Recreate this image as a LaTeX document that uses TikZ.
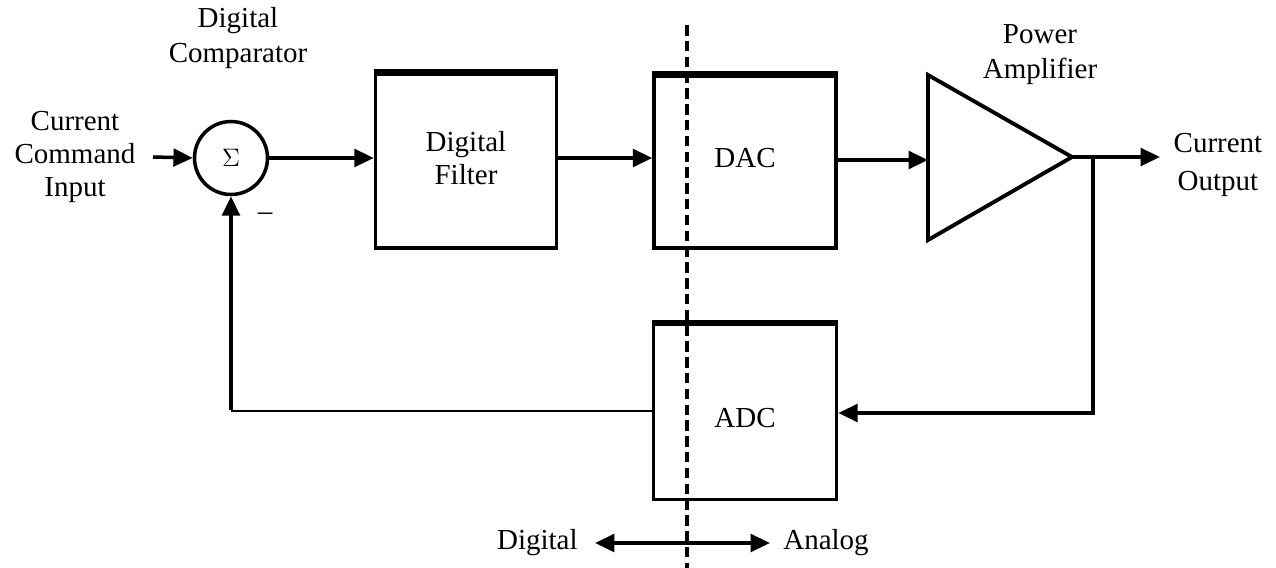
\documentclass[tikz,border=0pt]{standalone}
\usepackage{fontspec}
\setmainfont{Liberation Serif}
\usetikzlibrary{arrows.meta}
\begin{document}
\begin{tikzpicture}[x=0.02cm,y=-0.02cm,
  lbl/.style={font=\fontsize{16.5}{19}\selectfont, align=center, inner sep=0pt},
  blk/.style={draw, line width=2pt, inner sep=0pt},
  conn/.style={line width=2pt, -{Triangle[length=11pt,width=10pt]}},
  wire/.style={line width=2pt}]
\useasboundingbox (0,0) rectangle (1276,568);
% blocks
\node[draw, circle, line width=2pt, minimum size=1.46cm, inner sep=0pt, font=\fontsize{15}{15}\selectfont] (sum) at (231,158) {$\Sigma$};
\node[blk, minimum width=3.62cm, minimum height=3.48cm] (filt) at (466,161) {};
\node[lbl] at (466,158) {Digital\\Filter};
\node[blk, minimum width=3.64cm, minimum height=3.44cm] (dac) at (745,162) {};
\node[lbl] at (745,158) {DAC};
\node[blk, minimum width=3.66cm, minimum height=3.5cm] (adc) at (745,412) {};
\node[lbl] at (745,418) {ADC};
\draw[line width=3.5pt] (filt.north west) -- (filt.north east);
\draw[line width=3.5pt] (dac.north west) -- (dac.north east);
\draw[line width=3.5pt] (adc.north west) -- (adc.north east);
% amplifier
\coordinate (ampL) at (928,157);
\coordinate (ampT) at (1072,157);
\draw[line width=2.2pt, line join=miter] (928,75) -- (ampT) -- (928,240) -- cycle;
% labels
\node[lbl] (inlbl) at (75,157) {Current\\Command\\Input};
\node[lbl, font=\fontsize{16.5}{20}\selectfont] at (238,38) {Digital\\Comparator};
\node[lbl, font=\fontsize{16.5}{20}\selectfont] at (1040,55) {Power\\Amplifier};
\node[lbl, font=\fontsize{16.5}{22}\selectfont] (outlbl) at (1218,165) {Current\\Output};
\node[lbl] at (265,217) {--};
\node[lbl, anchor=east] (dig) at (578,543) {Digital};
\node[lbl, anchor=west] (ana) at (783,543) {Analog};
% connectors
\coordinate (inS) at (153,157);
\draw[conn] (inS) -- (sum.west);
\draw[conn] (sum.east) -- (filt.west |- sum.east);
\draw[conn] (filt.east |- 0,158) -- (dac.west |- 0,158);
\draw[conn] (dac.east |- 0,160) -- (ampL |- 0,160);
\coordinate (br) at (1093,157);
\coordinate (outE) at (1160,157);
\coordinate (brB) at (1093,413);
\coordinate (fbC) at (231,411);
\draw[conn] (ampT) -- (outE);
\draw[conn, line join=miter] (br) -- (brB) -- (adc.east |- brB);
\draw[line width=1.3pt] (adc.west |- fbC) -- (fbC);
\draw[conn] ([yshift=0.65pt]fbC) -- (sum.south);
\draw[line width=2pt, {Triangle[length=11pt,width=10pt]}-{Triangle[length=11pt,width=10pt]}] (595,543) -- (770,543);
% boundary
\draw[line width=2pt, dash pattern=on 6pt off 3pt] (687,25) -- (687,568);
\end{tikzpicture}
\end{document}
